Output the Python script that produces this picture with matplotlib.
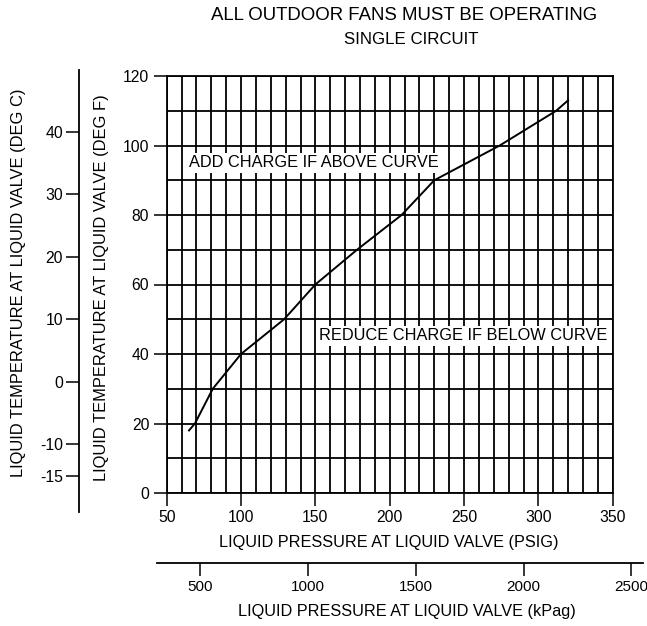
import matplotlib
matplotlib.use("Agg")
import matplotlib.pyplot as plt
import numpy as np

plt.rcParams['font.family'] = ['Liberation Sans', 'DejaVu Sans']
plt.rcParams['axes.unicode_minus'] = False

# curve (PSIG vs deg F)
pressure_psig = [65, 69, 81, 100, 129, 150, 178, 208, 230, 274, 312, 320]
temp_f = [18, 20, 30, 40, 50, 60, 70, 80, 90, 100, 110, 113]

psig_ticks = [50, 100, 150, 200, 250, 300, 350]
degf_ticks = [0, 20, 40, 60, 80, 100, 120]
degc_ticks = [40, 30, 20, 10, 0, -10, -15]
kpa_ticks = [500, 1000, 1500, 2000, 2500]

title_lines = ["ALL OUTDOOR FANS MUST BE OPERATING", "SINGLE CIRCUIT"]
note_above = "ADD CHARGE IF ABOVE CURVE"
note_below = "REDUCE CHARGE IF BELOW CURVE"

KPA_PER_PSI = 6.895


def f_to_c(f):
    return (f - 32) / 1.8


W, H = 647, 626
fig = plt.figure(figsize=(W / 100, H / 100), dpi=100)

# main chart box in pixels
x0, x1 = 166.7, 612.7
y_top, y_bot = 76, 493
xmin, xmax = 50, 350
ymin, ymax = 0, 120

ax = fig.add_axes([x0 / W, (H - y_bot) / H, (x1 - x0) / W, (y_bot - y_top) / H])
ax.set_xlim(xmin, xmax)
ax.set_ylim(ymin, ymax)
ax.set_xticks(psig_ticks)
ax.set_yticks(degf_ticks)
ax.set_xticks(np.arange(xmin, xmax + 1, 10), minor=True)
ax.set_yticks(np.arange(ymin, ymax + 1, 10), minor=True)
ax.grid(which='both', color='k', lw=1.3)
ax.tick_params(which='major', direction='out', length=9.5, width=1.1,
               labelsize=11.3, pad=3, colors='k')
ax.tick_params(which='minor', length=0)
for s in ax.spines.values():
    s.set_linewidth(1.3)

ax.plot(pressure_psig, temp_f, color='k', lw=1.4, zorder=3)

box = dict(facecolor='white', edgecolor='none', pad=1.5)
ax.text(65, 95, note_above, fontsize=11.8, ha='left', va='center', bbox=box, zorder=4)
ax.text(152.5, 45.2, note_below, fontsize=11.8, ha='left', va='center', bbox=box, zorder=4)


def px_to_f(py):
    return ymin + (y_bot - py) / (y_bot - y_top) * (ymax - ymin)


def px_to_psig(px):
    return xmin + (px - x0) / (x1 - x0) * (xmax - xmin)


# deg C scale on its own spine
c_x = 79
c_top, c_bot = 70, 512
axc = fig.add_axes([c_x / W, (H - c_bot) / H, 0.001, (c_bot - c_top) / H])
axc.set_ylim(f_to_c(px_to_f(c_bot)), f_to_c(px_to_f(c_top)))
axc.set_yticks(degc_ticks)
axc.set_xticks([])
for k in ['top', 'right', 'bottom']:
    axc.spines[k].set_visible(False)
axc.spines['left'].set_linewidth(1.3)
axc.patch.set_visible(False)
axc.tick_params(axis='y', direction='out', length=9.5, width=1.1, labelsize=11.3, pad=2)

# kPa scale under the chart
k_left, k_right, k_y = 157, 643, 563
axk = fig.add_axes([k_left / W, (H - k_y) / H, (k_right - k_left) / W, 0.001])
axk.set_xlim(px_to_psig(k_left) * KPA_PER_PSI, px_to_psig(k_right) * KPA_PER_PSI)
axk.set_xticks(kpa_ticks)
axk.set_yticks([])
for k in ['top', 'right', 'left']:
    axk.spines[k].set_visible(False)
axk.spines['bottom'].set_linewidth(1.3)
axk.patch.set_visible(False)
axk.tick_params(axis='x', direction='out', length=9, width=1.1, labelsize=11.0, pad=3)

# labels and titles
fig.text(404 / W, 1 - 15.7 / H, title_lines[0], fontsize=13.4, ha='center', va='center')
fig.text(410.8 / W, 1 - 40 / H, title_lines[1], fontsize=12.2, ha='center', va='center')
fig.text(389 / W, 1 - 543 / H, "LIQUID PRESSURE AT LIQUID VALVE (PSIG)",
         fontsize=11.7, ha='center', va='center')
fig.text(406.7 / W, 1 - 611.7 / H, "LIQUID PRESSURE AT LIQUID VALVE (kPag)",
         fontsize=11.7, ha='center', va='center')
fig.text(101.7 / W, 1 - 288 / H, "LIQUID TEMPERATURE AT LIQUID VALVE (DEG F)",
         fontsize=11.9, ha='center', va='center', rotation=90)
fig.text(18.3 / W, 1 - 283 / H, "LIQUID TEMPERATURE AT LIQUID VALVE (DEG C)",
         fontsize=11.9, ha='center', va='center', rotation=90)

fig.savefig("out.png", dpi=100)
